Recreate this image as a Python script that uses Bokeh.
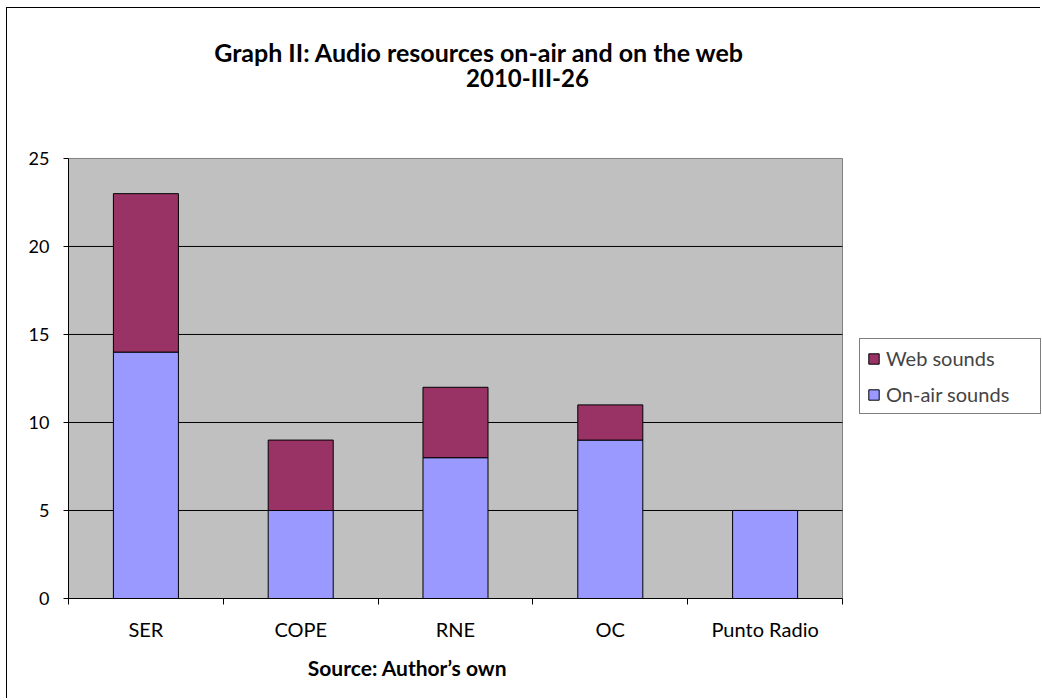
from bokeh.plotting import figure
from bokeh.models import (ColumnDataSource, FixedTicker, Label, Legend, LegendItem,
                          LinearAxis, Range1d)
from bokeh.embed import file_html
from bokeh.resources import INLINE

# ---- data ----
categories = ["SER", "COPE", "RNE", "OC", "Punto Radio"]
on_air = [14, 5, 8, 9, 5]
web = [9, 4, 4, 2, 0]
title_line1 = "Graph II: Audio resources on-air and on the web"
title_line2 = "2010-III-26"
source_text = "Source: Author\u2019s own"
y_ticks = [0, 5, 10, 15, 20, 25]

FONT = "Lato"
C_WEB = "#993366"
C_AIR = "#9999FF"
C_PLOT = "#C0C0C0"

n = len(categories)
y_max = y_ticks[-1]
xs = [i + 0.5 for i in range(n)]
tops = [a + w for a, w in zip(on_air, web)]
src = ColumnDataSource(dict(x=xs, cat=categories, on_air=on_air, web=web, top=tops,
                            zero=[0] * n))

# frame spans the whole chart area right of the y axis; the plot area is 0..n x 0..y_max
p = figure(width=1034, height=691, output_backend="svg", toolbar_location=None,
           title=None,
           x_range=Range1d(0, 6.2855), y_range=Range1d(0, 33.52),
           min_border_left=61, min_border_right=0, min_border_top=0,
           min_border_bottom=101, background_fill_color="white",
           border_fill_color="white", outline_line_color=None,
           styles={"border-left": "1px solid black", "border-top": "1px solid black",
                   "margin-left": "6px", "margin-top": "7px"})

# plot area
p.quad(left=[0], right=[n], bottom=[0], top=[y_max], fill_color=C_PLOT,
       line_color="#808080", line_width=1)
gy = y_ticks[1:-1]
p.segment(x0=[0] * len(gy), x1=[n] * len(gy), y0=gy, y1=gy, line_color="black",
          line_width=1)

r_air = p.vbar(x="x", bottom="zero", top="on_air", width=0.42, source=src,
               fill_color=C_AIR, line_color="black", line_width=1)
r_web = p.vbar(x="x", bottom="on_air", top="top", width=0.42, source=src,
               fill_color=C_WEB, line_color="black", line_width=1)

p.xgrid.grid_line_color = None
p.ygrid.grid_line_color = None

# y axis
p.yaxis.ticker = FixedTicker(ticks=y_ticks)
p.yaxis.bounds = (0, y_max)
p.yaxis.axis_line_color = "black"
p.yaxis.major_tick_line_color = "black"
p.yaxis.major_tick_in = 0
p.yaxis.major_tick_out = 5
p.yaxis.minor_tick_line_color = None
p.yaxis.major_label_standoff = 14
p.yaxis.major_label_text_font = FONT
p.yaxis.major_label_text_font_size = "18px"
p.yaxis.major_label_text_color = "black"

# x axis: labels at category centres, ticks at boundaries
p.xaxis.ticker = FixedTicker(ticks=xs, minor_ticks=list(range(n + 1)))
p.xaxis.bounds = (0, n)
p.xaxis.major_label_overrides = {x: c for x, c in zip(xs, categories)}
p.xaxis.axis_line_color = "black"
p.xaxis.major_tick_line_color = None
p.xaxis.major_tick_in = 0
p.xaxis.major_tick_out = 0
p.xaxis.minor_tick_line_color = "black"
p.xaxis.minor_tick_in = 0
p.xaxis.minor_tick_out = 6
p.xaxis.major_label_standoff = 12
p.xaxis.major_label_text_font = FONT
p.xaxis.major_label_text_font_size = "20px"
p.xaxis.major_label_text_color = "black"

# source line as a second, bare axis below the first
src_x = 2.19
src_axis = LinearAxis(ticker=FixedTicker(ticks=[src_x]),
                      major_label_overrides={src_x: source_text},
                      axis_line_color=None, major_tick_line_color=None,
                      minor_tick_line_color=None, major_tick_in=0, major_tick_out=0,
                      minor_tick_out=0, major_label_standoff=11,
                      major_label_text_font=FONT, major_label_text_font_style="bold",
                      major_label_text_font_size="21px",
                      major_label_text_color="black")
p.add_layout(src_axis, "below")

# title lines
p.add_layout(Label(x=2.655, y=31.025, text=title_line1, text_align="center",
                   text_baseline="alphabetic", text_font=FONT, text_font_style="bold",
                   text_font_size="25px", text_color="black"))
p.add_layout(Label(x=2.965, y=29.605, text=title_line2, text_align="center",
                   text_baseline="alphabetic", text_font=FONT, text_font_style="bold",
                   text_font_size="24px", text_color="black"))

legend = Legend(items=[LegendItem(label="Web sounds", renderers=[r_web]),
                       LegendItem(label="On-air sounds", renderers=[r_air])],
                location=(791, 184), glyph_width=13, glyph_height=13,
                label_text_font=FONT, label_text_font_size="20px",
                label_standoff=6, label_height=20, label_width=147,
                padding=7, spacing=12, margin=0,
                border_line_color="black", background_fill_color="white",
                background_fill_alpha=1.0)
p.add_layout(legend)

open("out.html", "w").write(file_html(p, INLINE))
